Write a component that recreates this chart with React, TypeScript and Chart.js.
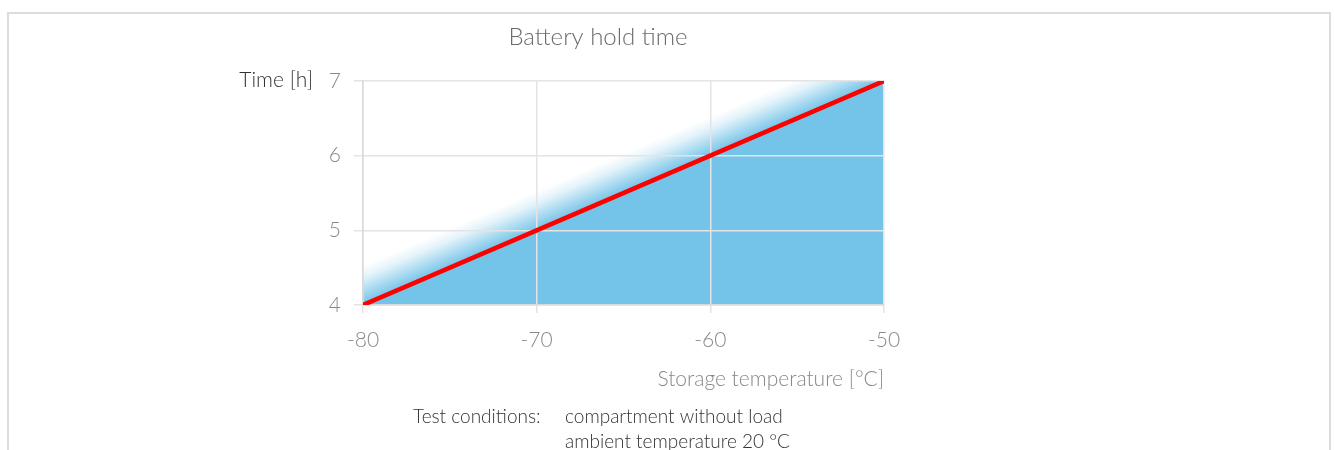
import React, { useEffect, useRef } from "react";
import { Chart, registerables } from "chart.js";

Chart.register(...registerables);

const temperatures = [-80, -70, -60, -50];
const holdHours = [4, 5, 6, 7];
const xTicks = [-80, -70, -60, -50];
const yTicks = [4, 5, 6, 7];

const titleText = "Battery hold time";
const yTitleText = "Time [h]";
const xTitleText = "Storage temperature [°C]";
const conditionsLabel = "Test conditions:";
const conditionsLines = ["compartment without load", "ambient temperature 20 °C"];

const FONT = "Lato, 'Open Sans', sans-serif";
const BLUE = "116,195,232";

const gradientPlugin = {
  id: "bandGradient",
  beforeDraw(chart: any) {
    const meta = chart.getDatasetMeta(0);
    const pts = meta.data;
    if (!pts || pts.length < 2) return;
    const a = pts[0];
    const b = pts[pts.length - 1];
    const dx = b.x - a.x;
    const dy = b.y - a.y;
    const len = Math.hypot(dx, dy);
    const nx = dy / len;
    const ny = -dx / len;
    const band = 36;
    const { ctx, chartArea } = chart;
    const g = ctx.createLinearGradient(a.x, a.y, a.x + nx * band, a.y + ny * band);
    g.addColorStop(0, `rgba(${BLUE},1)`);
    g.addColorStop(0.35, `rgba(${BLUE},0.6)`);
    g.addColorStop(0.7, `rgba(${BLUE},0.2)`);
    g.addColorStop(1, `rgba(${BLUE},0)`);
    ctx.save();
    ctx.fillStyle = g;
    ctx.fillRect(chartArea.left, chartArea.top, chartArea.right - chartArea.left, chartArea.bottom - chartArea.top);
    ctx.restore();
  },
};

const decorPlugin = {
  id: "decor",
  afterDraw(chart: any) {
    const { ctx, chartArea, width, height } = chart;
    ctx.save();
    // outer frame
    ctx.strokeStyle = "#dcdcdc";
    ctx.lineWidth = 2;
    ctx.beginPath();
    ctx.moveTo(8, height + 5);
    ctx.lineTo(8, 13);
    ctx.lineTo(width - 5, 13);
    ctx.lineTo(width - 5, height + 5);
    ctx.stroke();

    ctx.textBaseline = "middle";
    // title
    ctx.fillStyle = "#6b6b6b";
    ctx.font = `300 24px ${FONT}`;
    ctx.textAlign = "center";
    ctx.fillText(titleText, chartArea.left + 235, 37);

    // y title
    ctx.fillStyle = "#333333";
    ctx.font = `300 21px ${FONT}`;
    ctx.textAlign = "right";
    ctx.fillText(yTitleText, chartArea.left - 50, chartArea.top - 1);

    // x title
    ctx.fillStyle = "#888888";
    ctx.font = `300 21px ${FONT}`;
    ctx.textAlign = "right";
    ctx.fillText(xTitleText, chartArea.right, chartArea.bottom + 74);

    // test conditions
    ctx.fillStyle = "#333333";
    ctx.font = `300 19px ${FONT}`;
    ctx.textAlign = "left";
    ctx.fillText(conditionsLabel, chartArea.left + 50, chartArea.bottom + 112);
    conditionsLines.forEach((line, i) => {
      ctx.fillText(line, chartArea.left + 202, chartArea.bottom + 112 + i * 25);
    });
    ctx.restore();
  },
};

export default function App() {
  const canvasRef = useRef<HTMLCanvasElement | null>(null);

  useEffect(() => {
    if (!canvasRef.current) return;
    const chart = new Chart(canvasRef.current, {
      type: "line",
      data: {
        datasets: [
          {
            data: temperatures.map((t, i) => ({ x: t, y: holdHours[i] })),
            borderColor: "#ff0000",
            borderWidth: 4.5,
            pointRadius: 0,
            fill: false,
            tension: 0,
          },
        ],
      },
      options: {
        animation: false,
        responsive: false,
        devicePixelRatio: 1,
        layout: { padding: { left: 0, right: 451, top: 81, bottom: 85 } },
        plugins: {
          legend: { display: false },
          title: { display: false },
          tooltip: { enabled: false },
        },
        scales: {
          x: {
            type: "linear",
            min: -80,
            max: -50,
            afterBuildTicks: (s: any) => {
              s.ticks = xTicks.map((v) => ({ value: v }));
            },
            afterFit: (s: any) => {
              s.height = 60;
            },
            ticks: {
              color: "#8a8a8a",
              font: { family: FONT, size: 21, weight: 300 },
              padding: 15,
              maxRotation: 0,
            },
            grid: { color: "#e4e4e4", lineWidth: 1.5, tickLength: 8 },
            border: { color: "#d8d8d8", width: 1.5 },
          },
          y: {
            type: "linear",
            min: 4,
            max: 7,
            afterBuildTicks: (s: any) => {
              s.ticks = yTicks.map((v) => ({ value: v }));
            },
            afterFit: (s: any) => {
              s.width = 363;
            },
            ticks: {
              color: "#8a8a8a",
              font: { family: FONT, size: 21, weight: 300 },
              padding: 13,
            },
            grid: { color: "#e4e4e4", lineWidth: 1.5, tickLength: 9 },
            border: { color: "#d8d8d8", width: 1.5 },
          },
        },
      },
      plugins: [gradientPlugin, decorPlugin],
    });
    return () => chart.destroy();
  }, []);

  return (
    <div style={{ position: "fixed", left: 0, top: 0, width: 1335, height: 450, background: "#fff" }}>
      <canvas ref={canvasRef} width={1335} height={450} />
    </div>
  );
}
